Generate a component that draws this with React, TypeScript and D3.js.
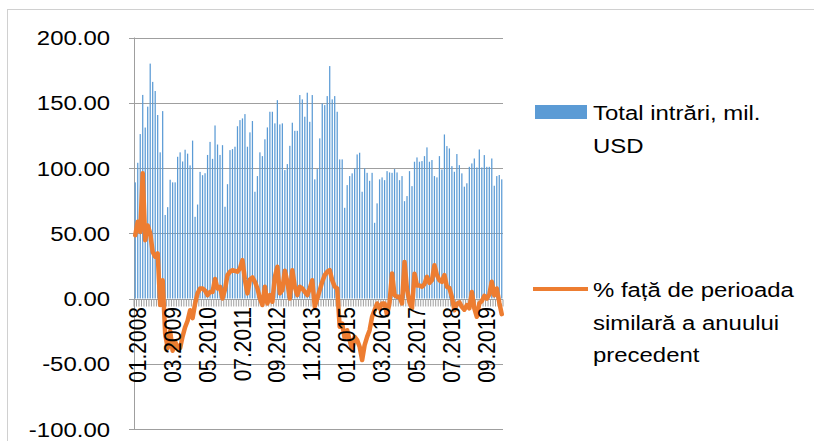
import React, { useEffect, useRef } from 'react'
import * as d3 from 'd3'

// monthly categories, 01.2008 .. 04.2020
const months = d3.timeMonth.range(new Date(2008, 0, 1), new Date(2020, 4, 1))
const categories = months.map(d3.timeFormat('%m.%Y'))

const tickLabels = ['01.2008', '03.2009', '05.2010', '07.2011', '09.2012', '11.2013',
    '01.2015', '03.2016', '05.2017', '07.2018', '09.2019']

const yTicks = [-100, -50, 0, 50, 100, 150, 200]

// Total intrări, mil. USD
const totalIntrari = [
    89, 104, 126, 156, 131, 147, 180, 166, 159, 140.6, 112, 143.6,
    64, 70, 91, 89, 89, 108.6, 112, 105, 114, 111, 102, 121,
    62.6, 72, 97, 94.5, 96, 110, 120, 107, 132.6, 118, 110, 117.5,
    70.3, 87.6, 113.7, 114.5, 116.3, 132, 136.7, 138, 141.3, 116.3, 127.3, 136,
    81.8, 93.8, 112, 109.1, 122, 131.1, 143.1, 143.1, 134.2, 152, 133.4, 134.2,
    98.4, 103, 117, 134.7, 128.5, 128.5, 155.9, 152.6, 139.3, 157.7, 135.4, 155.9,
    91.3, 99.2, 122.7, 149.5, 148.2, 155.1, 178.1, 152.6, 155.1, 143.1, 106.6, 106.6,
    69.5, 86.9, 93.8, 95.9, 99.7, 110.4, 111.7, 81.8, 99.7, 96.3, 90.2, 96.3,
    58, 72.9, 91.3, 92.8, 90.7, 97.6, 96.6, 96.3, 99.2, 96.6, 90.7, 93.8,
    74.6, 78.5, 97.6, 86.1, 104.8, 108.1, 104.8, 105.3, 109.1, 115.8, 104.8, 106.1,
    93.8, 92.8, 109.1, 98.9, 125.7, 116.8, 115, 101.4, 97.1, 110.7, 102.2, 95.9,
    85.7, 88.3, 100.9, 103.5, 107.3, 100.4, 114.2, 100.4, 109.9, 100.9, 100.9, 107.3,
    86.4, 93.8, 94.6, 91.3
]

// % față de perioada similară a anului precedent
const fataDePerioada = [
    48.5, 58.8, 51, 96, 44.7, 56, 50, 35.7, 32, 34.5, -5, 14,
    -27, -38, -25, -40, -33, -38, -38, -29, -22, -17, -9, -15,
    -4, 4, 7.7, 7.7, 6, 2.5, 5, 5, 15, 7.7, 9, 0,
    7, 17.9, 20.5, 21.7, 21.2, 20.5, 23, 29.4, 14.1, 3.9, 14.6, 16.1,
    12.8, 7.7, 0, -5, 9, -3.8, 2.6, -2.5, 16.6, 24.3, 3.9, 6.4,
    21.2, 12.8, 0, 21.7, 9, 2.6, 9, 7.7, 5.1, 2.6, 7.7, 14,
    -6.3, 0, 6.4, 12.8, 17.9, 20.5, 21.7, 14.1, 9, 7.7, -21.7, -19.2,
    -30.6, -24.3, -31.9, -39.6, -29.4, -31.9, -37, -47.2, -35.8, -29.4, -24.3, -14,
    -8.9, -3.8, -7.6, -3.8, -3.8, -12.7, -3, 19.2, 2.6, 1.3, 1.3, -3.8,
    28, 7, -3, -7.5, 19, 10, 10, 9, 11, 16.6, 12, 14,
    25.5, 18, 14, 12.8, 18, 9, 8, 1.2, -9, -4, -3, -6.4,
    -8.6, -5, -7.5, 5, -7.5, -14, -3.8, -2, 2, 0, 3, 12.8,
    2.5, 7.7, -3, -12
]

const W = 814
const H = 441
const FONT = "'Liberation Sans', Arial, sans-serif"
const STRETCH = 1.14

const App = () => {
    const ref = useRef<SVGSVGElement>(null)

    useEffect(() => {
        const svg = d3.select(ref.current)
        svg.selectAll('*').remove()

        const x = d3.scaleBand<string>()
            .domain(categories)
            .range([134, 503])

        const y = d3.scaleLinear()
            .domain([-100, 200])
            .range([429, 37.5])

        svg.append('rect')
            .attr('width', W).attr('height', H).attr('fill', '#fff')

        // chart frame
        svg.append('rect')
            .attr('x', 7.5).attr('y', 9.5)
            .attr('width', 830).attr('height', 460)
            .attr('fill', 'none').attr('stroke', '#d0d0d0')

        const g = svg.append('g')

        // gridlines
        g.selectAll('line.grid')
            .data(yTicks.filter(d => d !== 0))
            .join('line')
            .attr('class', 'grid')
            .attr('x1', 134).attr('x2', 503)
            .attr('y1', d => Math.round(y(d)) + 0.5)
            .attr('y2', d => Math.round(y(d)) + 0.5)
            .attr('stroke', '#9f9f9f')
            .attr('stroke-width', 1)

        // y axis
        g.append('line')
            .attr('x1', 134.5).attr('x2', 134.5)
            .attr('y1', y(200)).attr('y2', y(-100))
            .attr('stroke', '#9f9f9f')

        g.selectAll('line.ytick')
            .data(yTicks)
            .join('line')
            .attr('class', 'ytick')
            .attr('x1', 129).attr('x2', 134.5)
            .attr('y1', d => Math.round(y(d)) + 0.5)
            .attr('y2', d => Math.round(y(d)) + 0.5)
            .attr('stroke', '#9f9f9f')

        g.selectAll('text.ylab')
            .data(yTicks)
            .join('text')
            .attr('class', 'ylab')
            .attr('transform', d => `translate(110,${y(d)}) scale(${STRETCH},1)`)
            .attr('dy', '0.36em')
            .attr('text-anchor', 'end')
            .attr('font-family', FONT)
            .attr('font-size', 21)
            .attr('fill', '#000')
            .text(d => d3.format('.2f')(d).replace('\u2212', '-'))

        // bars
        const bw = x.bandwidth() * 0.5
        g.selectAll('rect.bar')
            .data(totalIntrari)
            .join('rect')
            .attr('class', 'bar')
            .attr('x', (d, i) => x(categories[i])! + (x.bandwidth() - bw) / 2)
            .attr('y', d => y(d))
            .attr('width', bw)
            .attr('height', d => y(0) - y(d))
            .attr('fill', '#5b9bd5')

        // x axis with category ticks
        const y0 = Math.round(y(0)) + 0.5
        g.append('line')
            .attr('x1', 134).attr('x2', 503)
            .attr('y1', y0).attr('y2', y0)
            .attr('stroke', '#9f9f9f')

        g.selectAll('line.xtick')
            .data(categories.concat(['end']))
            .join('line')
            .attr('class', 'xtick')
            .attr('x1', (d, i) => 134 + i * x.step())
            .attr('x2', (d, i) => 134 + i * x.step())
            .attr('y1', y0).attr('y2', y0 + 7)
            .attr('stroke', '#9f9f9f')

        // line
        const line = d3.line<number>()
            .x((d, i) => x(categories[i])! + x.bandwidth() / 2)
            .y(d => y(d))

        g.append('path')
            .datum(fataDePerioada)
            .attr('d', line)
            .attr('fill', 'none')
            .attr('stroke', '#ed7d31')
            .attr('stroke-width', 4.5)
            .attr('stroke-linejoin', 'round')
            .attr('stroke-linecap', 'round')

        // rotated x labels
        g.selectAll('text.xlab')
            .data(tickLabels)
            .join('text')
            .attr('class', 'xlab')
            .attr('transform', d => `translate(${x(d)! + x.bandwidth() / 2 + 2},307) scale(${STRETCH},1) rotate(-90)`)
            .attr('dy', '0.36em')
            .attr('text-anchor', 'end')
            .attr('font-family', FONT)
            .attr('font-size', 21)
            .attr('fill', '#000')
            .text(d => d)

        // legend
        const legend = svg.append('g')
        legend.append('rect')
            .attr('x', 535).attr('y', 105)
            .attr('width', 52).attr('height', 14)
            .attr('fill', '#5b9bd5')
        legend.append('line')
            .attr('x1', 533).attr('x2', 588)
            .attr('y1', 289).attr('y2', 289)
            .attr('stroke', '#ed7d31')
            .attr('stroke-width', 4)

        const legendLines = [
            { text: 'Total intrări, mil.', y: 120 },
            { text: 'USD', y: 153 },
            { text: '% față de perioada', y: 297 },
            { text: 'similară a anuului', y: 330 },
            { text: 'precedent', y: 362 }
        ]
        legend.selectAll('text')
            .data(legendLines)
            .join('text')
            .attr('transform', d => `translate(593,${d.y}) scale(${STRETCH},1)`)
            .attr('font-family', FONT)
            .attr('font-size', 21)
            .attr('fill', '#000')
            .text(d => d.text)
    }, [])

    return (
        <svg ref={ref} width={W} height={H}
            style={{ position: 'absolute', left: 0, top: 0, display: 'block' }} />
    )
}

export default App
